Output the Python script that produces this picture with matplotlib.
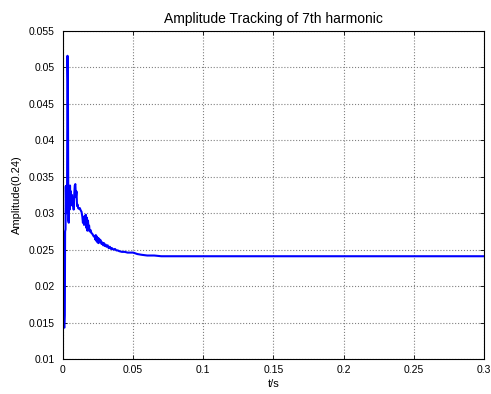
import matplotlib
matplotlib.use("Agg")
import matplotlib.pyplot as plt

# Tracked amplitude of the 7th harmonic over time
t = [0.0000, 0.0002, 0.0004, 0.0006, 0.0010, 0.0013, 0.0015, 0.0018, 0.0020, 0.0023,
     0.0026, 0.0029, 0.0032, 0.0035, 0.0038, 0.0041, 0.0044, 0.0047, 0.0050, 0.0053,
     0.0056, 0.0060, 0.0064, 0.0068, 0.0072, 0.0076, 0.0080, 0.0084, 0.0088, 0.0092,
     0.0096, 0.0100, 0.0104, 0.0108, 0.0114, 0.0120, 0.0126, 0.0132, 0.0138, 0.0142,
     0.0146, 0.0150, 0.0154, 0.0158, 0.0162, 0.0166, 0.0170, 0.0174, 0.0178, 0.0182,
     0.0186, 0.0190, 0.0196, 0.0202, 0.0208, 0.0214, 0.0220, 0.0226, 0.0230, 0.0234,
     0.0238, 0.0242, 0.0246, 0.0250, 0.0254, 0.0258, 0.0262, 0.0268, 0.0274, 0.0280,
     0.0286, 0.0292, 0.0298, 0.0304, 0.0310, 0.0318, 0.0326, 0.0334, 0.0342, 0.0350,
     0.0360, 0.0370, 0.0380, 0.0390, 0.0400, 0.0420, 0.0440, 0.0460, 0.0480, 0.0500,
     0.0530, 0.0560, 0.0600, 0.0650, 0.0700, 0.0750, 0.0800, 0.1000, 0.3000]
amplitude = [0.0275, 0.0230, 0.0200, 0.0145, 0.0143, 0.0160, 0.0275, 0.0278, 0.0337, 0.0300,
             0.0338, 0.0330, 0.0516, 0.0480, 0.0290, 0.0287, 0.0335, 0.0305, 0.0338, 0.0318,
             0.0330, 0.0312, 0.0325, 0.0310, 0.0318, 0.0305, 0.0325, 0.0338, 0.0340, 0.0322,
             0.0330, 0.0310, 0.0312, 0.0307, 0.0306, 0.0307, 0.0304, 0.0302, 0.0295, 0.0287,
             0.0292, 0.0284, 0.0296, 0.0288, 0.0298, 0.0280, 0.0294, 0.0276, 0.0290, 0.0279,
             0.0283, 0.0275, 0.0277, 0.0273, 0.0272, 0.0270, 0.0268, 0.0269, 0.0264, 0.0270,
             0.0262, 0.0268, 0.0260, 0.0266, 0.0259, 0.0265, 0.0261, 0.0263, 0.0258, 0.0260,
             0.0256, 0.0259, 0.0255, 0.0257, 0.0254, 0.0256, 0.0252, 0.0254, 0.0251, 0.0252,
             0.0250, 0.0251, 0.0249, 0.0249, 0.0248, 0.0247, 0.0247, 0.0246, 0.0246, 0.0246,
             0.0244, 0.0243, 0.0242, 0.0242, 0.0241, 0.0241, 0.0241, 0.0241, 0.0241]

x_ticks = [0, 0.05, 0.1, 0.15, 0.2, 0.25, 0.3]
x_labels = ["0", "0.05", "0.1", "0.15", "0.2", "0.25", "0.3"]
y_ticks = [0.01, 0.015, 0.02, 0.025, 0.03, 0.035, 0.04, 0.045, 0.05, 0.055]
y_labels = ["0.01", "0.015", "0.02", "0.025", "0.03", "0.035", "0.04", "0.045", "0.05", "0.055"]

plt.rcParams["font.family"] = ["Liberation Sans", "DejaVu Sans"]
plt.rcParams["font.size"] = 8

fig = plt.figure(figsize=(4.91, 3.94), dpi=100)
ax = fig.add_axes([0.1283, 0.0888, 0.8574, 0.8325])

ax.plot(t, amplitude, color=(0, 0, 1), linewidth=1.5)

ax.set_xlim(0, 0.3)
ax.set_ylim(0.01, 0.055)
ax.set_xticks(x_ticks)
ax.set_xticklabels(x_labels)
ax.set_yticks(y_ticks)
ax.set_yticklabels(y_labels)

ax.grid(True, linestyle=":", color="#808080", linewidth=0.8)
ax.tick_params(direction="in", length=3, width=0.6, top=True, right=True,
               labelsize=7.5, colors="black")
ax.tick_params(axis="y", pad=6)
ax.tick_params(axis="x", pad=4.5)
for s in ax.spines.values():
    s.set_linewidth(0.8)

ax.set_title("Amplitude Tracking of 7th harmonic", fontsize=10, pad=6)
ax.set_xlabel("t/s", fontsize=8, labelpad=3)
ax.set_ylabel("Amplitude(0.24)", fontsize=8, labelpad=5)

fig.savefig("out.png", dpi=100)
